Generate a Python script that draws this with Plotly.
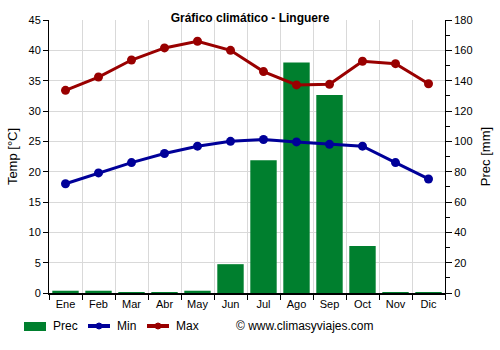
import plotly.graph_objects as go

months = ["Ene", "Feb", "Mar", "Abr", "May", "Jun", "Jul", "Ago", "Sep", "Oct", "Nov", "Dic"]
prec = [1.5, 1.5, 0.5, 0.5, 1.5, 19, 87.5, 152, 130.5, 31, 0.5, 0.5]
t_min = [18.0, 19.8, 21.5, 23.0, 24.2, 25.0, 25.3, 24.9, 24.5, 24.2, 21.5, 18.8]
t_max = [33.4, 35.6, 38.4, 40.4, 41.5, 40.0, 36.5, 34.3, 34.4, 38.2, 37.8, 34.5]

FONT = "Liberation Sans, Arial, sans-serif"
C_PREC = "#007f2e"
C_MIN = "#000099"
C_MAX = "#990000"

W, H = 500, 350
L, R, T, B = 49, 55, 20, 57
PW, PH = W - L - R, H - T - B


def px(x):
    return (x - L) / PW


def py(y):
    return (H - B - y) / PH


fig = go.Figure()

# Precipitation bars on the primary axis (drawn underneath)
fig.add_trace(go.Bar(
    x=months, y=prec, name="Prec", yaxis="y",
    marker=dict(color=C_PREC, line=dict(width=0)), width=0.8,
))
# Temperatures on the overlaying axis (drawn on top)
fig.add_trace(go.Scatter(
    x=months, y=t_min, name="Min", yaxis="y2", mode="lines+markers",
    line=dict(color=C_MIN, width=3), marker=dict(size=9, color=C_MIN),
))
fig.add_trace(go.Scatter(
    x=months, y=t_max, name="Max", yaxis="y2", mode="lines+markers",
    line=dict(color=C_MAX, width=3), marker=dict(size=9, color=C_MAX),
))

# Hand-drawn legend row below the chart
ly = 326
shapes = [
    dict(type="rect", xref="paper", yref="paper", x0=px(24), x1=px(46),
         y0=py(331), y1=py(322), fillcolor=C_PREC, line=dict(width=0)),
]
annotations = [
    dict(text="Prec", x=px(51), y=py(ly), xanchor="left"),
    dict(text="Min", x=px(115), y=py(ly), xanchor="left"),
    dict(text="Max", x=px(174), y=py(ly), xanchor="left"),
    dict(text="© www.climasyviajes.com", x=px(234), y=py(ly), xanchor="left"),
]
for x0, color in [(88, C_MIN), (147, C_MAX)]:
    shapes.append(dict(type="line", xref="paper", yref="paper",
                       x0=px(x0), x1=px(x0 + 22), y0=py(ly), y1=py(ly),
                       line=dict(color=color, width=4)))
    shapes.append(dict(type="circle", xref="paper", yref="paper",
                       xsizemode="pixel", ysizemode="pixel",
                       xanchor=px(x0 + 11), yanchor=py(ly),
                       x0=-3, x1=3, y0=-3, y1=3,
                       fillcolor=color, line=dict(color=color, width=1)))
for a in annotations:
    a.update(xref="paper", yref="paper", yanchor="middle", showarrow=False,
             font=dict(size=12, family=FONT, color="black"))

fig.update_layout(
    width=W, height=H,
    margin=dict(l=L, r=R, t=T, b=B, autoexpand=False),
    paper_bgcolor="white", plot_bgcolor="white",
    font=dict(family=FONT, size=11, color="black"),
    title=dict(text="<b>Gráfico climático - Linguere</b>", x=0.5, xanchor="center",
               y=0.95, yanchor="middle", font=dict(size=12)),
    showlegend=False,
    xaxis=dict(
        type="category", tickson="boundaries", showgrid=True, gridcolor="#d9d9d9",
        ticks="outside", ticklen=5, tickcolor="black", showline=True,
        linecolor="black", linewidth=2, range=[-0.5, 11.5], automargin=False,
    ),
    yaxis=dict(
        side="right", range=[0, 180], dtick=20, showgrid=False,
        ticks="outside", ticklen=6, tickcolor="black", showline=True,
        linecolor="black", linewidth=1, automargin=False,
        minor=dict(ticks="outside", dtick=10, ticklen=4, tickcolor="black"),
        title=dict(text="Prec [mm]", standoff=9),
        zeroline=False,
    ),
    yaxis2=dict(
        side="left", overlaying="y", range=[0, 45], dtick=5,
        showgrid=True, gridcolor="#d9d9d9",
        ticks="outside", ticklen=5, tickcolor="black", showline=True,
        linecolor="black", linewidth=1, automargin=False,
        title=dict(text="Temp [°C]", standoff=7),
        zeroline=False,
    ),
    shapes=shapes,
    annotations=annotations,
)

fig.write_html("out.html")
